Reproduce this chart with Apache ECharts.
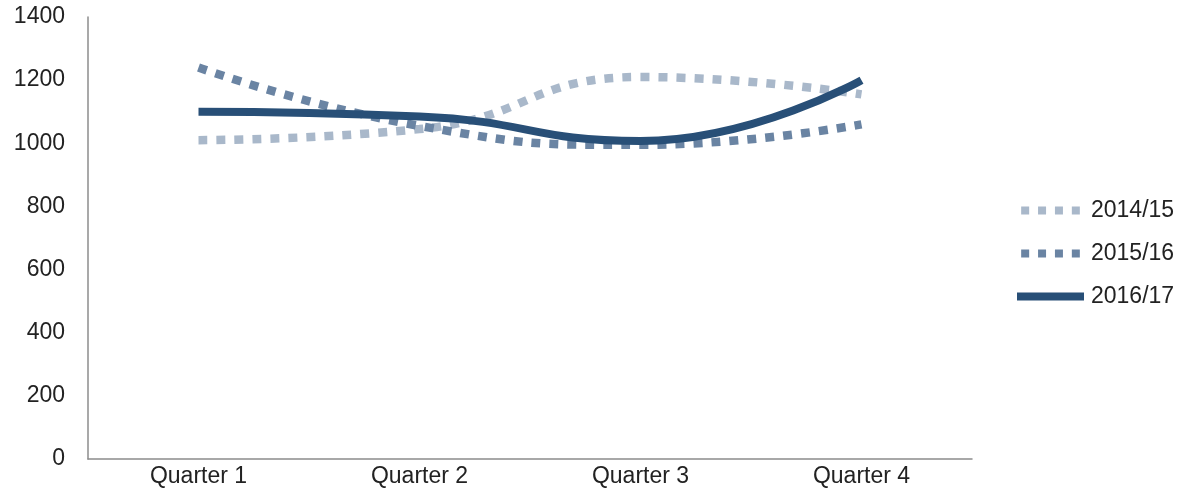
<!DOCTYPE html>
<html>
<head>
<meta charset="utf-8">
<script src="https://cdn.jsdelivr.net/npm/echarts@6/dist/echarts.min.js"></script>
<style>
  html, body { margin: 0; padding: 0; background: #fff; }
  #chart { width: 1202px; height: 501px; }
</style>
</head>
<body>
<div id="chart"></div>
<script>
// Quarterly totals for three financial years
const quarters = ['Quarter 1', 'Quarter 2', 'Quarter 3', 'Quarter 4'];
const fy1415 = [1010, 1045, 1210, 1155];
const fy1516 = [1240, 1055, 995, 1060];
const fy1617 = [1100, 1085, 1007, 1200];
const seriesNames = ['2014/15', '2015/16', '2016/17'];

const FONT = '"Liberation Sans", Arial, sans-serif';
const dotted = [9, 9];
// legend key: four square dots, or a solid bar
const dotIcon = 'path://M0,0h9v9h-9zM19,0h9v9h-9zM38,0h9v9h-9zM57,0h9v9h-9z';

const chart = echarts.init(document.getElementById('chart'), null, { renderer: 'canvas' });

function lineSeries(name, data, color, width, type) {
  return {
    name: name,
    type: 'line',
    data: data,
    smooth: 0.5,
    symbol: 'none',
    lineStyle: { color: color, width: width, type: type, cap: 'butt' },
    itemStyle: { color: color },
    emphasis: { disabled: true }
  };
}

chart.setOption({
  animation: false,
  backgroundColor: '#ffffff',
  grid: { left: 88, right: 230, top: 17, bottom: 42, containLabel: false },
  legend: {
    orient: 'vertical',
    left: 1012,
    top: 194,
    itemWidth: 67,
    itemHeight: 8,
    itemGap: 20,
    itemStyle: { borderWidth: 0 },
    textStyle: { fontFamily: FONT, fontSize: 23, lineHeight: 23, color: '#222222', padding: [0, 0, 0, 2] },
    data: [
      { name: seriesNames[0], icon: dotIcon },
      { name: seriesNames[1], icon: dotIcon },
      { name: seriesNames[2], icon: 'rect' }
    ]
  },
  xAxis: {
    type: 'category',
    data: quarters,
    boundaryGap: true,
    axisLine: { lineStyle: { color: '#8c8c8c', width: 1.5 } },
    axisTick: { show: false },
    axisLabel: { fontFamily: FONT, fontSize: 23, color: '#222222', margin: 6 }
  },
  yAxis: {
    type: 'value',
    min: 0,
    max: 1400,
    interval: 200,
    axisLine: { show: true, lineStyle: { color: '#8c8c8c', width: 1.5 } },
    axisTick: { show: false },
    splitLine: { show: false },
    axisLabel: {
      fontFamily: FONT, fontSize: 23, color: '#222222', margin: 23,
      formatter: function (v) { return String(v); }
    }
  },
  series: [
    lineSeries(seriesNames[0], fy1415, '#a9b8ca', 8.5, dotted),
    lineSeries(seriesNames[1], fy1516, '#6a84a3', 8.5, dotted),
    lineSeries(seriesNames[2], fy1617, '#284f77', 8, 'solid')
  ]
});
</script>
</body>
</html>
